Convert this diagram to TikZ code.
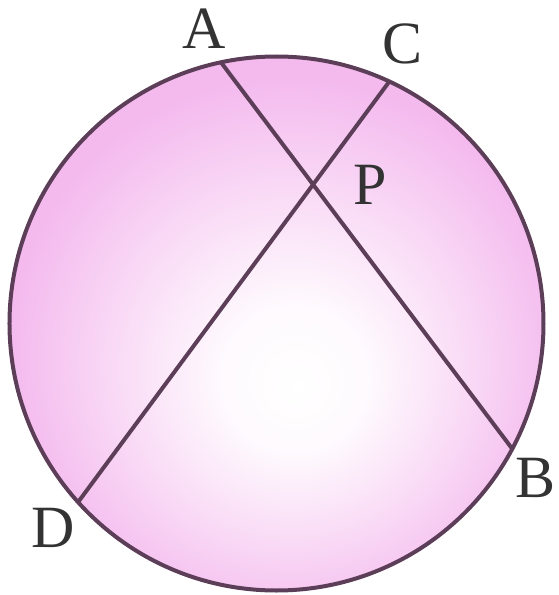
\documentclass[tikz,border=0pt]{standalone}
\usepackage{fontspec}
\setmainfont{Liberation Serif}
\usepackage{xcolor}
\usepackage{tikz}
\usetikzlibrary{positioning}
\definecolor{pinkedge}{RGB}{244,186,238}
\definecolor{chordline}{RGB}{92,62,88}
\pgfdeclareradialshading{pinkglow}{\pgfpoint{2bp}{-6bp}}{color(0bp)=(white); color(7bp)=(white!92!pinkedge); color(26bp)=(pinkedge); color(50bp)=(pinkedge)}

\begin{document}
\begin{tikzpicture}[x=1pt, y=1pt,
  chord/.style={draw=chordline, line width=4pt},
  lab/.style={font=\fontsize{60}{60}\selectfont, text=black!80, inner sep=0pt}]
  \useasboundingbox (-276.5,-271.5) rectangle (282.5,323.5);
  \node[circle, minimum size=534pt, inner sep=0pt, outer sep=0pt, shade, shading=pinkglow,
    draw=chordline, line width=4pt] (circ) at (0,0) {};
  \coordinate (A) at (circ.102.6);
  \coordinate (C) at (circ.65.6);
  \coordinate (B) at (circ.-28);
  \coordinate (D) at (circ.222.7);
  \draw[chord] (A) -- (B);
  \draw[chord] (C) -- (D);
  \coordinate (P) at (intersection of A--B and C--D);
  \node[lab] (lblA) at (-72.5,295) {A};
  \node[lab] (lblC) at (126.5,279.5) {C};
  \node[lab, right=40pt of P] (lblP) {P};
  \node[lab] (lblB) at (259,-154.5) {B};
  \node[lab] (lblD) at (-223.5,-204.5) {D};
\end{tikzpicture}
\end{document}
